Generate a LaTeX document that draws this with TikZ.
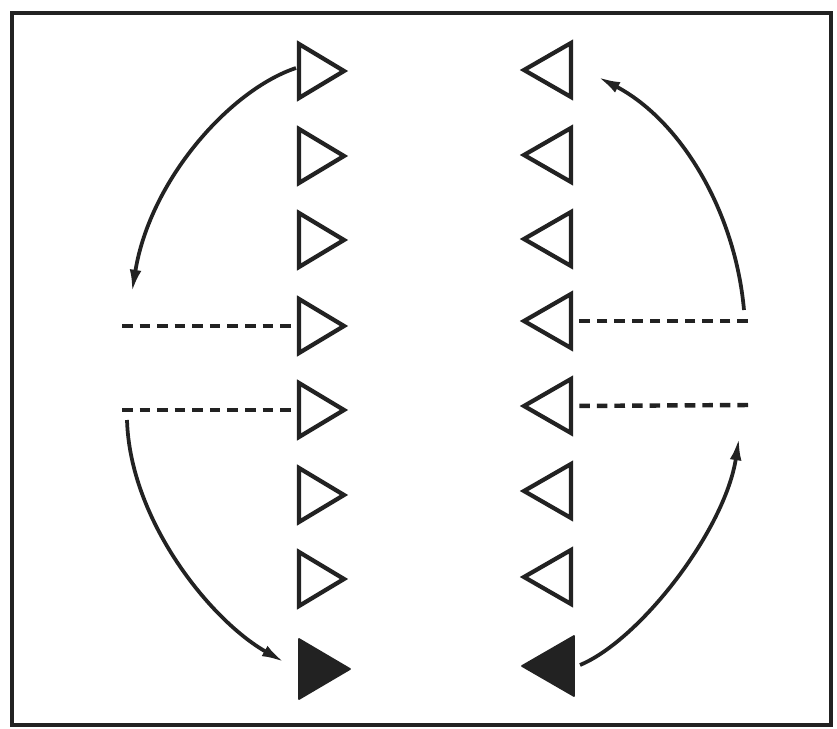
\documentclass[tikz,border=0pt]{standalone}
\usetikzlibrary{arrows.meta}
\definecolor{ink}{HTML}{222222}
\begin{document}
\begin{tikzpicture}[x=0.03cm,y=-0.03cm,
  tri/.style={draw=ink,line width=3.6pt,line join=miter},
  trifill/.style={draw=ink,fill=ink,line width=1.5pt,line join=round},
  dline/.style={draw=ink,line width=3.8pt,dash pattern=on 9pt off 6pt},
  flow/.style={draw=ink,line width=3.2pt,-{Latex[length=19pt,width=10pt]}},
  frame/.style={draw=ink,line width=3.2pt}]
\useasboundingbox (0,0) rectangle (837,729);
\draw[frame] (12,13) rectangle (831,725);
% left column (pointing right): base x, centre y
\foreach \n/\y in {1/71,2/156,3/240,4/326,5/410,6/495,7/579}{
  \coordinate (L\n) at (299,\y);
  \draw[tri] (L\n) ++(0,-27) -- ++(0,54) -- ++(45,-27) -- cycle;
}
% right column (pointing left): base x, centre y
\foreach \n/\y in {1/70,2/155,3/239,4/321,5/406,6/491,7/577}{
  \coordinate (R\n) at (571,\y);
  \draw[tri] (R\n) ++(0,-27) -- ++(0,54) -- ++(-47,-27) -- cycle;
}
% filled triangles
\coordinate (L8) at (299,669);
\draw[trifill] (L8) ++(0,-30) -- ++(0,60) -- ++(51,-30) -- cycle;
\coordinate (R8) at (574,666);
\draw[trifill] (R8) ++(0,-30) -- ++(0,60) -- ++(-52,-30) -- cycle;
% dashed lines
\coordinate (dl4) at (122,326);
\coordinate (dl5) at (122,410);
\coordinate (dr4) at (748,321);
\coordinate (dr5) at (748,405);
\draw[dline] (dl4) -- (L4);
\draw[dline] (dl5) -- (L5);
\draw[dline] (dr4) -- (R4);
\draw[dline] (dr5) -- (R5);
% curved arrows
\coordinate (a1s) at (296,68);
\coordinate (a1e) at (132,292);
\draw[flow] (a1s) .. controls (230,90) and (150,180) .. (a1e);
\coordinate (a2s) at (127,420);
\coordinate (a2e) at (284,662);
\draw[flow] (a2s) .. controls (130,520) and (210,620) .. (a2e);
\coordinate (a3s) at (580,665);
\coordinate (a3e) at (739,438);
\draw[flow] (a3s) .. controls (640,640) and (725,530) .. (a3e);
\coordinate (a4s) at (744,310);
\coordinate (a4e) at (598,77);
\draw[flow] (a4s) .. controls (735,210) and (680,120) .. (a4e);
\end{tikzpicture}
\end{document}
